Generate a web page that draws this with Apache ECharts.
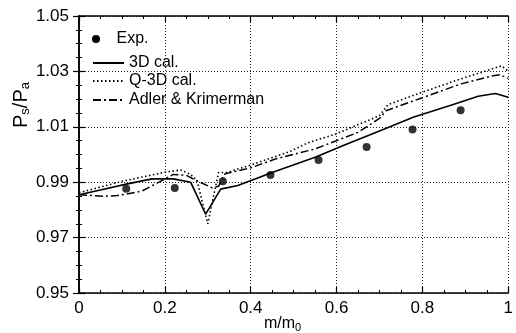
<!DOCTYPE html>
<html>
<head>
<meta charset="utf-8">
<script src="https://cdn.jsdelivr.net/npm/echarts@6/dist/echarts.min.js"></script>
<style>
  html, body { margin: 0; padding: 0; background: #fff; }
  #chart { width: 516px; height: 333px; }
</style>
</head>
<body>
<div id="chart"></div>
<script>
// Static pressure ratio along the passage, m/m0
const expX = [0.11, 0.223, 0.335, 0.446, 0.558, 0.67, 0.777, 0.889];
const expY = [0.9876, 0.9879, 0.9903, 0.9926, 0.9980, 1.0027, 1.0090, 1.0160];

const cal3dX = [0, 0.05, 0.11, 0.17, 0.22, 0.26, 0.295, 0.33, 0.37, 0.45, 0.55, 0.62, 0.70, 0.78, 0.87, 0.93, 0.97, 1.0];
const cal3dY = [0.9855, 0.9872, 0.9893, 0.9912, 0.9912, 0.9900, 0.9785, 0.9875, 0.9888, 0.9935, 0.9990, 1.0035, 1.0085, 1.0135, 1.0180, 1.0210, 1.0220, 1.0207];

const q3dX = [0, 0.10, 0.20, 0.237, 0.26, 0.275, 0.30, 0.325, 0.345, 0.40, 0.49, 0.533, 0.60, 0.70, 0.72, 0.80, 0.88, 0.97, 0.985, 1.0];
const q3dY = [0.9862, 0.9903, 0.9936, 0.9944, 0.9928, 0.9905, 0.9750, 0.9935, 0.9935, 0.9962, 1.0010, 1.0042, 1.0075, 1.0140, 1.0180, 1.0225, 1.0268, 1.0313, 1.0320, 1.0300];

const adlerX = [0, 0.06, 0.09, 0.145, 0.18, 0.22, 0.25, 0.275, 0.31, 0.325, 0.34, 0.40, 0.46, 0.55, 0.60, 0.65, 0.70, 0.715, 0.80, 0.89, 0.96, 0.98, 1.0];
const adlerY = [0.9855, 0.9849, 0.9852, 0.9867, 0.9895, 0.9928, 0.9925, 0.9905, 0.9880, 0.9885, 0.9930, 0.9952, 0.9985, 1.0020, 1.0050, 1.0080, 1.0130, 1.0158, 1.0205, 1.0255, 1.0283, 1.0288, 1.0275];

const xTicks = [0, 0.2, 0.4, 0.6, 0.8, 1];
const yTicks = [0.95, 0.97, 0.99, 1.01, 1.03, 1.05];

const zip = (xs, ys) => xs.map((x, i) => [x, ys[i]]);

const FONT = '"Liberation Sans", Arial, Helvetica, sans-serif';
const black = '#000';

const axisBase = {
  type: 'value',
  axisLine: { show: true, lineStyle: { color: black, width: 1.5 } },
  axisTick: { show: true, inside: true, length: 6, lineStyle: { color: black, width: 1.2 } },
  minorTick: { show: true, splitNumber: 4, length: 3, lineStyle: { color: black, width: 1 } },
  splitLine: { show: false },
  minorSplitLine: { show: false }
};

const chart = echarts.init(document.getElementById('chart'), null, { renderer: 'canvas' });

// one legend block per entry so each row sits at its own height
const legendRows = [
  { name: 'Exp.', top: 31, dot: true },
  { name: '3D cal.', top: 55 },
  { name: 'Q-3D cal.', top: 73 },
  { name: 'Adler & Krimerman', top: 92 }
];

chart.setOption({
  backgroundColor: '#fff',
  animation: false,
  grid: { left: 79, right: 1, top: 16, bottom: 40, containLabel: false },
  xAxis: [
    Object.assign({}, axisBase, {
      position: 'bottom',
      min: xTicks[0], max: xTicks[xTicks.length - 1], interval: 0.2,
      axisLabel: {
        color: black, fontFamily: FONT, fontSize: 17, margin: 7,
        formatter: v => (Math.abs(v) < 1e-9 ? '0' : (Math.abs(v - 1) < 1e-9 ? '1' : v.toFixed(1)))
      },
      splitLine: { show: true, lineStyle: { color: '#222', width: 1, type: [1, 2] } }
    }),
    Object.assign({}, axisBase, {
      position: 'top',
      min: xTicks[0], max: xTicks[xTicks.length - 1], interval: 0.2,
      axisLabel: { show: false }
    })
  ],
  yAxis: [
    Object.assign({}, axisBase, {
      position: 'left',
      min: yTicks[0], max: yTicks[yTicks.length - 1], interval: 0.02,
      axisLabel: {
        color: black, fontFamily: FONT, fontSize: 17, margin: 10,
        formatter: v => v.toFixed(2)
      },
      splitLine: { show: true, lineStyle: { color: '#222', width: 1, type: [1, 2] } }
    }),
    Object.assign({}, axisBase, {
      position: 'right',
      min: yTicks[0], max: yTicks[yTicks.length - 1], interval: 0.02,
      axisLabel: { show: false }
    })
  ],
  legend: legendRows.map(r => ({
    data: [r.name], left: 92, top: r.top,
    orient: 'vertical', itemWidth: 31, itemHeight: 8, padding: 0,
    itemStyle: r.dot ? undefined : { opacity: 0 },
    textStyle: { color: black, fontFamily: FONT, fontSize: 16 }
  })),
  graphic: [
    {
      type: 'text', left: 11, top: 82, rotation: Math.PI / 2,
      style: {
        text: '{m|P}{s|s}{m|/P}{s|a}',
        rich: {
          m: { fontFamily: FONT, fontSize: 20, fill: black },
          s: { fontFamily: FONT, fontSize: 13, fill: black, verticalAlign: 'bottom', padding: [9, 0, 0, 0] }
        }
      }
    },
    {
      type: 'text', left: 264, top: 316,
      style: {
        text: '{m|m/m}{s|0}',
        rich: {
          m: { fontFamily: FONT, fontSize: 16, fill: black },
          s: { fontFamily: FONT, fontSize: 11, fill: black, padding: [8, 0, 0, 0] }
        }
      }
    }
  ],
  series: [
    {
      name: 'Exp.', type: 'scatter', data: zip(expX, expY),
      symbol: 'circle', symbolSize: 8, itemStyle: { color: black }, z: 5
    },
    {
      name: '3D cal.', type: 'line', data: zip(cal3dX, cal3dY), showSymbol: false, symbol: 'none',
      lineStyle: { color: black, width: 1.6, type: 'solid' }, itemStyle: { color: black }
    },
    {
      name: 'Q-3D cal.', type: 'line', data: zip(q3dX, q3dY), showSymbol: false, symbol: 'none',
      lineStyle: { color: black, width: 1.6, type: [1.5, 2.5] }, itemStyle: { color: black }
    },
    {
      name: 'Adler & Krimerman', type: 'line', data: zip(adlerX, adlerY), showSymbol: false, symbol: 'none',
      lineStyle: { color: black, width: 1.5, type: [8, 3, 2, 3] }, itemStyle: { color: black }
    }
  ]
});
</script>
</body>
</html>
